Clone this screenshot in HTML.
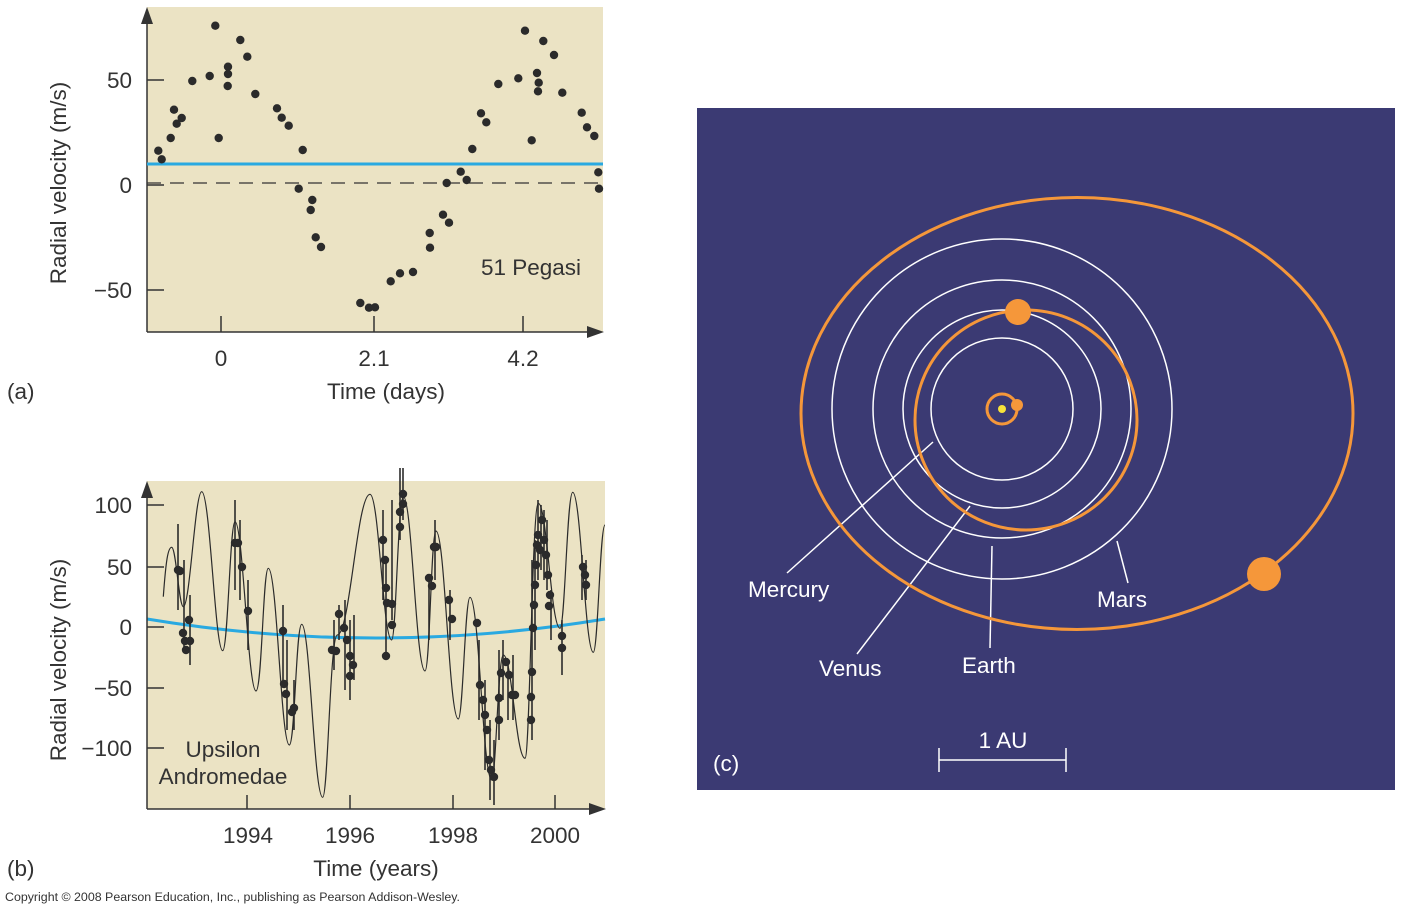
<!DOCTYPE html>
<html><head><meta charset="utf-8"><style>
html,body{margin:0;padding:0;background:#fff;}
svg{display:block;font-family:"Liberation Sans",sans-serif;}
</style></head><body>
<svg width="1402" height="913" viewBox="0 0 1402 913" xmlns="http://www.w3.org/2000/svg">
<!-- Panel a -->
<rect x="147" y="7" width="456" height="325" fill="#ebe3c4"/>
<g stroke="#333" stroke-width="1.5">
<line x1="147" y1="332" x2="597" y2="332"/><line x1="147" y1="332" x2="147" y2="14"/>
<line x1="147" y1="80" x2="164" y2="80"/><line x1="147" y1="185" x2="164" y2="185"/><line x1="147" y1="290" x2="164" y2="290"/>
<line x1="221" y1="332" x2="221" y2="316"/><line x1="374" y1="332" x2="374" y2="316"/><line x1="523" y1="332" x2="523" y2="316"/>
<line x1="147" y1="183" x2="603" y2="183" stroke-dasharray="14,9" stroke-width="1.3"/>
</g>
<polygon points="147,7 141,24 153,24" fill="#333"/><polygon points="604,332 587,326 587,338" fill="#333"/>
<line x1="147" y1="164" x2="603" y2="164" stroke="#29a9e1" stroke-width="3"/>
<g fill="#2b2b2b">
<circle cx="158.3" cy="150.7" r="4.2"/><circle cx="161.7" cy="159.3" r="4.2"/><circle cx="170.7" cy="138" r="4.2"/><circle cx="174" cy="109.7" r="4.2"/><circle cx="176.7" cy="123.7" r="4.2"/><circle cx="181.7" cy="118" r="4.2"/><circle cx="192.3" cy="81" r="4.2"/><circle cx="209.7" cy="76" r="4.2"/><circle cx="215.3" cy="25.7" r="4.2"/><circle cx="218.7" cy="138" r="4.2"/><circle cx="228" cy="66.7" r="4.2"/><circle cx="228" cy="74" r="4.2"/><circle cx="227.7" cy="86" r="4.2"/><circle cx="240.3" cy="40" r="4.2"/><circle cx="247.3" cy="56.7" r="4.2"/><circle cx="255.3" cy="94" r="4.2"/><circle cx="277" cy="108.3" r="4.2"/><circle cx="281.7" cy="117.7" r="4.2"/><circle cx="288.7" cy="125.7" r="4.2"/><circle cx="302.7" cy="150" r="4.2"/><circle cx="298.7" cy="188.7" r="4.2"/><circle cx="312.3" cy="200" r="4.2"/><circle cx="310.7" cy="210" r="4.2"/><circle cx="315.7" cy="237.3" r="4.2"/><circle cx="321" cy="247" r="4.2"/><circle cx="360.3" cy="303" r="4.2"/><circle cx="369" cy="307.7" r="4.2"/><circle cx="375" cy="307.3" r="4.2"/><circle cx="390.7" cy="281.3" r="4.2"/><circle cx="400" cy="273.3" r="4.2"/><circle cx="413" cy="272" r="4.2"/><circle cx="429.7" cy="233" r="4.2"/><circle cx="430" cy="247.7" r="4.2"/><circle cx="443" cy="214.7" r="4.2"/><circle cx="449" cy="222.7" r="4.2"/><circle cx="446.7" cy="183" r="4.2"/><circle cx="460.7" cy="171.7" r="4.2"/><circle cx="466.7" cy="180" r="4.2"/><circle cx="472.3" cy="149" r="4.2"/><circle cx="481" cy="113.3" r="4.2"/><circle cx="486.3" cy="122.3" r="4.2"/><circle cx="498.3" cy="84" r="4.2"/><circle cx="518.3" cy="78.3" r="4.2"/><circle cx="525" cy="30.7" r="4.2"/><circle cx="531.7" cy="140.3" r="4.2"/><circle cx="537" cy="73" r="4.2"/><circle cx="538.7" cy="82.7" r="4.2"/><circle cx="538" cy="91.3" r="4.2"/><circle cx="543.3" cy="41" r="4.2"/><circle cx="554" cy="55" r="4.2"/><circle cx="562.3" cy="92.7" r="4.2"/><circle cx="581.7" cy="112.7" r="4.2"/><circle cx="587" cy="127.3" r="4.2"/><circle cx="594.3" cy="136" r="4.2"/><circle cx="598.3" cy="172.3" r="4.2"/><circle cx="599" cy="188.7" r="4.2"/>
</g>
<text x="531" y="275" font-size="22.5" fill="#333" text-anchor="middle">51 Pegasi</text>
<g font-size="22.5" fill="#333" text-anchor="end">
<text x="132" y="88">50</text><text x="132" y="193">0</text><text x="132" y="298">−50</text>
</g>
<g font-size="22.5" fill="#333" text-anchor="middle">
<text x="221" y="366">0</text><text x="374" y="366">2.1</text><text x="523" y="366">4.2</text>
<text x="386" y="399">Time (days)</text>
<text transform="translate(66,183) rotate(-90)">Radial velocity (m/s)</text>
</g>
<text x="7" y="399" font-size="22.5" fill="#333">(a)</text>

<!-- Panel b -->
<rect x="147" y="481" width="458" height="328" fill="#ebe3c4"/>
<path d="M147,619 Q376,657 605,619" fill="none" stroke="#29a9e1" stroke-width="3"/>
<path fill="none" stroke="#2b2b2b" stroke-width="1.2" d="M163.3,596.7 C166,560 168,547.3 171.7,547.3 C176,547.3 179,606.7 183.3,606.7 C190,606.7 195,491.7 201.7,491.7 C210,491.7 215,650.7 222.7,650.7 C228,650.7 230,521.7 235,521.7 C243,521.7 248,691 256,691 C262,691 263,568.3 268.3,568.3 C277,568.3 281,745 289.3,745 C295,745 296,624.3 301.7,624.3 C310,624.3 314,797.3 322.7,797.3 C328,797.3 330,635 337.3,635 C350,635 357,494.3 370,494.3 C379,494.3 383,640 391.7,640 C396,640 398,496.7 403.3,496.7 C412,496.7 416,671 425,671 C430,671 431,531 436,531 C445,531 449,719 458.3,719 C463,719 465,597.3 470,597.3 C479,597.3 483,780 491.7,780 C496,780 498,655 503.3,655 C512,655 516,758.3 525,758.3 C530,758.3 532,503.3 538.3,503.3 C547,503.3 551,628.3 560,628.3 C565,628.3 567,492.3 572.7,492.3 C581,492.3 585,652.3 593.3,652.3 C598,652.3 600,525 605,525"/>
<g stroke="#2b2b2b" stroke-width="1.6">
<line x1="178" y1="524" x2="178" y2="610"/><line x1="184" y1="560" x2="184" y2="650"/><line x1="190" y1="595" x2="190" y2="665"/>
<line x1="235" y1="500" x2="235" y2="590"/><line x1="240" y1="520" x2="240" y2="600"/><line x1="248" y1="580" x2="248" y2="650"/>
<line x1="283" y1="605" x2="283" y2="680"/><line x1="287" y1="640" x2="287" y2="730"/><line x1="294" y1="680" x2="294" y2="730"/>
<line x1="334" y1="620" x2="334" y2="670"/><line x1="339" y1="605" x2="339" y2="640"/><line x1="345" y1="600" x2="345" y2="690"/><line x1="350" y1="620" x2="350" y2="700"/><line x1="354" y1="615" x2="354" y2="680"/>
<line x1="383" y1="510" x2="383" y2="600"/><line x1="386" y1="560" x2="386" y2="660"/><line x1="392" y1="500" x2="392" y2="620"/><line x1="400" y1="468" x2="400" y2="540"/><line x1="403" y1="468" x2="403" y2="520"/>
<line x1="429" y1="580" x2="429" y2="640"/><line x1="435" y1="520" x2="435" y2="580"/><line x1="450" y1="590" x2="450" y2="640"/>
<line x1="479" y1="640" x2="479" y2="720"/><line x1="485" y1="680" x2="485" y2="770"/><line x1="490" y1="720" x2="490" y2="800"/><line x1="494" y1="740" x2="494" y2="805"/><line x1="499" y1="650" x2="499" y2="740"/><line x1="503" y1="640" x2="503" y2="700"/><line x1="508" y1="660" x2="508" y2="720"/><line x1="513" y1="655" x2="513" y2="720"/>
<line x1="532" y1="560" x2="532" y2="740"/><line x1="535" y1="540" x2="535" y2="650"/><line x1="538" y1="500" x2="538" y2="580"/><line x1="541" y1="505" x2="541" y2="570"/><line x1="544" y1="510" x2="544" y2="580"/><line x1="547" y1="520" x2="547" y2="590"/><line x1="551" y1="590" x2="551" y2="640"/><line x1="562" y1="620" x2="562" y2="675"/>
<line x1="582" y1="555" x2="582" y2="600"/><line x1="586" y1="560" x2="586" y2="600"/>
</g>
<g fill="#2b2b2b">
<circle cx="178" cy="570" r="4.2"/><circle cx="180" cy="571" r="4.2"/><circle cx="183" cy="633" r="4.2"/><circle cx="186" cy="650" r="4.2"/><circle cx="189" cy="620" r="4.2"/><circle cx="190" cy="641" r="4.2"/><circle cx="185" cy="641" r="4.2"/>
<circle cx="235" cy="543" r="4.2"/><circle cx="238" cy="543" r="4.2"/><circle cx="242" cy="567" r="4.2"/><circle cx="248" cy="611" r="4.2"/>
<circle cx="283" cy="631" r="4.2"/><circle cx="284" cy="684" r="4.2"/><circle cx="286" cy="694" r="4.2"/><circle cx="294" cy="708" r="4.2"/><circle cx="292" cy="712" r="4.2"/>
<circle cx="332" cy="650" r="4.2"/><circle cx="336" cy="651" r="4.2"/><circle cx="339" cy="614" r="4.2"/><circle cx="344" cy="628" r="4.2"/><circle cx="347" cy="640" r="4.2"/><circle cx="350" cy="656" r="4.2"/><circle cx="353" cy="665" r="4.2"/><circle cx="350" cy="676" r="4.2"/>
<circle cx="383" cy="540" r="4.2"/><circle cx="385" cy="560" r="4.2"/><circle cx="386" cy="588" r="4.2"/><circle cx="387" cy="603" r="4.2"/><circle cx="392" cy="604" r="4.2"/><circle cx="392" cy="625" r="4.2"/><circle cx="386" cy="656" r="4.2"/><circle cx="400" cy="527" r="4.2"/><circle cx="400" cy="512" r="4.2"/><circle cx="403" cy="494" r="4.2"/><circle cx="403" cy="504" r="4.2"/>
<circle cx="429" cy="578" r="4.2"/><circle cx="432" cy="586" r="4.2"/><circle cx="434" cy="547" r="4.2"/><circle cx="436" cy="547" r="4.2"/><circle cx="449" cy="600" r="4.2"/><circle cx="452" cy="619" r="4.2"/>
<circle cx="477" cy="623" r="4.2"/><circle cx="480" cy="685" r="4.2"/><circle cx="483" cy="700" r="4.2"/><circle cx="485" cy="715" r="4.2"/><circle cx="487" cy="730" r="4.2"/><circle cx="489" cy="760" r="4.2"/><circle cx="491" cy="770" r="4.2"/><circle cx="494" cy="777" r="4.2"/><circle cx="499" cy="720" r="4.2"/><circle cx="499" cy="698" r="4.2"/><circle cx="501" cy="673" r="4.2"/><circle cx="506" cy="662" r="4.2"/><circle cx="509" cy="675" r="4.2"/><circle cx="512" cy="695" r="4.2"/><circle cx="515" cy="695" r="4.2"/>
<circle cx="531" cy="720" r="4.2"/><circle cx="531" cy="697" r="4.2"/><circle cx="532" cy="672" r="4.2"/><circle cx="533" cy="628" r="4.2"/><circle cx="534" cy="605" r="4.2"/><circle cx="535" cy="585" r="4.2"/><circle cx="536" cy="565" r="4.2"/><circle cx="537" cy="545" r="4.2"/><circle cx="538" cy="535" r="4.2"/><circle cx="540" cy="550" r="4.2"/><circle cx="542" cy="520" r="4.2"/><circle cx="544" cy="540" r="4.2"/><circle cx="546" cy="555" r="4.2"/><circle cx="548" cy="575" r="4.2"/><circle cx="550" cy="595" r="4.2"/><circle cx="549" cy="606" r="4.2"/><circle cx="562" cy="636" r="4.2"/><circle cx="562" cy="648" r="4.2"/>
<circle cx="583" cy="567" r="4.2"/><circle cx="585" cy="575" r="4.2"/><circle cx="586" cy="585" r="4.2"/>
</g>
<g stroke="#333" stroke-width="1.5">
<line x1="147" y1="809" x2="598" y2="809"/><line x1="147" y1="809" x2="147" y2="488"/>
<line x1="147" y1="505" x2="164" y2="505"/><line x1="147" y1="567" x2="164" y2="567"/><line x1="147" y1="627" x2="164" y2="627"/><line x1="147" y1="688" x2="164" y2="688"/><line x1="147" y1="748" x2="164" y2="748"/>
<line x1="247" y1="809" x2="247" y2="795"/><line x1="350" y1="809" x2="350" y2="795"/><line x1="453" y1="809" x2="453" y2="795"/><line x1="555" y1="809" x2="555" y2="795"/>
</g>
<polygon points="147,481 141,498 153,498" fill="#333"/><polygon points="606,809 589,803 589,815" fill="#333"/>
<g font-size="22.5" fill="#333" text-anchor="end">
<text x="132" y="513">100</text><text x="132" y="575">50</text><text x="132" y="635">0</text><text x="132" y="696">−50</text><text x="132" y="756">−100</text>
</g>
<g font-size="22.5" fill="#333" text-anchor="middle">
<text x="223" y="757">Upsilon</text><text x="223" y="784">Andromedae</text>
<text x="248" y="843">1994</text><text x="350" y="843">1996</text><text x="453" y="843">1998</text><text x="555" y="843">2000</text>
<text x="376" y="876">Time (years)</text>
<text transform="translate(66,660) rotate(-90)">Radial velocity (m/s)</text>
</g>
<text x="7" y="876" font-size="22.5" fill="#333">(b)</text>
<text x="5" y="901" font-size="12.4" fill="#333">Copyright © 2008 Pearson Education, Inc., publishing as Pearson Addison-Wesley.</text>

<!-- Panel c -->
<rect x="697" y="108" width="698" height="682" fill="#3b3a73"/>
<g fill="none" stroke="#fff" stroke-width="1.5">
<circle cx="1002" cy="409" r="71"/><circle cx="1002" cy="409" r="99"/><circle cx="1002" cy="409" r="129"/><circle cx="1002" cy="409" r="170"/>
<line x1="933" y1="442" x2="787" y2="573"/><line x1="970" y1="506" x2="857" y2="654"/><line x1="992" y1="546" x2="990" y2="648"/><line x1="1117" y1="541" x2="1128" y2="583"/>
<line x1="939" y1="760" x2="1066" y2="760"/><line x1="939" y1="748" x2="939" y2="772"/><line x1="1066" y1="748" x2="1066" y2="772"/>
</g>
<g fill="none" stroke="#f5973a" stroke-width="3">
<ellipse cx="1077" cy="413.5" rx="276" ry="216"/>
<ellipse cx="1026" cy="420" rx="111" ry="110"/>
<circle cx="1002" cy="409" r="15"/>
</g>
<g fill="#f5973a">
<circle cx="1018" cy="312" r="13"/><circle cx="1264" cy="574" r="17"/><circle cx="1017" cy="405" r="6"/>
</g>
<circle cx="1002" cy="409" r="4" fill="#f7e23a"/>
<g font-size="22.5" fill="#fff">
<text x="748" y="597">Mercury</text><text x="819" y="676">Venus</text><text x="962" y="673">Earth</text><text x="1097" y="607">Mars</text>
<text x="1003" y="748" text-anchor="middle">1 AU</text><text x="713" y="771">(c)</text>
</g>
</svg>
</body></html>
